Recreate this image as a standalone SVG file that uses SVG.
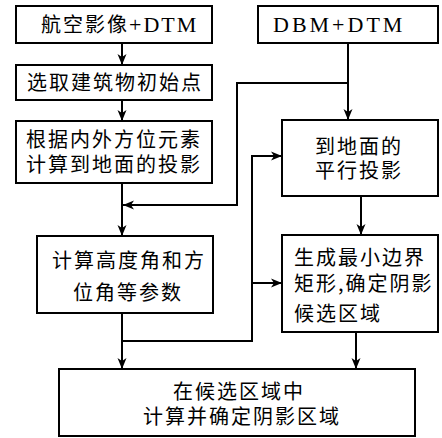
<svg xmlns="http://www.w3.org/2000/svg" width="442" height="438" viewBox="0 0 442 438">
<style>
.box{fill:#fff;stroke:#000;stroke-width:2}
.t{font-family:"Noto Sans CJK SC","Noto Sans",sans-serif;font-size:20px;letter-spacing:2px;fill:#000}
.s{font-family:"Liberation Serif","Times New Roman",serif;font-size:22px}
.c{fill:none;stroke:#000;stroke-width:2}
</style>
<defs>
<marker id="ah" markerUnits="userSpaceOnUse" markerWidth="12" markerHeight="10" refX="11" refY="5" orient="auto">
<path d="M0,0.5 L11,5 L0,9.5 L3,5 Z" fill="#000"/>
</marker>
</defs>
<rect width="442" height="438" fill="#fff"/>
<g id="connectors">
<path class="c" d="M122,43 V65" marker-end="url(#ah)"/>
<path class="c" d="M122,100 V121" marker-end="url(#ah)"/>
<path class="c" d="M122,183 V236" marker-end="url(#ah)"/>
<path class="c" d="M348,43 V120" marker-end="url(#ah)"/>
<path class="c" d="M348,83 H237 V205 H123" marker-end="url(#ah)"/>
<path class="c" d="M361,196 V235" marker-end="url(#ah)"/>
<path class="c" d="M122,313 V369" marker-end="url(#ah)"/>
<path class="c" d="M122,341 H252 V156 H282" marker-end="url(#ah)"/>
<path class="c" d="M252,283 H282" marker-end="url(#ah)"/>
<path class="c" d="M356,332 V369" marker-end="url(#ah)"/>
</g>
<g id="n1">
<rect class="box" x="16" y="6" width="196" height="37"/>
<text class="t" x="41" y="32">航空影像<tspan class="s">+DTM</tspan></text>
</g>
<g id="n2">
<rect class="box" x="258" y="6" width="180" height="37"/>
<text class="t s" x="273" y="32" style="letter-spacing:3px">DBM+DTM</text>
</g>
<g id="n3">
<rect class="box" x="16" y="65" width="196" height="35"/>
<text class="t" x="27" y="90">选取建筑物初始点</text>
</g>
<g id="n4">
<rect class="box" x="16" y="121" width="196" height="62"/>
<text class="t" x="26" y="147">根据内外方位元素</text>
<text class="t" x="26" y="172">计算到地面的投影</text>
</g>
<g id="n5">
<rect class="box" x="282" y="120" width="156" height="76"/>
<text class="t" x="315" y="154">到地面的</text>
<text class="t" x="315" y="178">平行投影</text>
</g>
<g id="n6">
<rect class="box" x="37" y="236" width="176" height="77"/>
<text class="t" x="52" y="268">计算高度角和方</text>
<text class="t" x="73" y="300">位角等参数</text>
</g>
<g id="n7">
<rect class="box" x="282" y="235" width="156" height="97"/>
<text class="t" x="294" y="265">生成最小边界</text>
<text class="t" x="294" y="291">矩形,确定阴影</text>
<text class="t" x="294" y="321">候选区域</text>
</g>
<g id="n8">
<rect class="box" x="59" y="369" width="356" height="67"/>
<text class="t" x="173" y="399">在候选区域中</text>
<text class="t" x="143" y="424">计算并确定阴影区域</text>
</g>
</svg>
